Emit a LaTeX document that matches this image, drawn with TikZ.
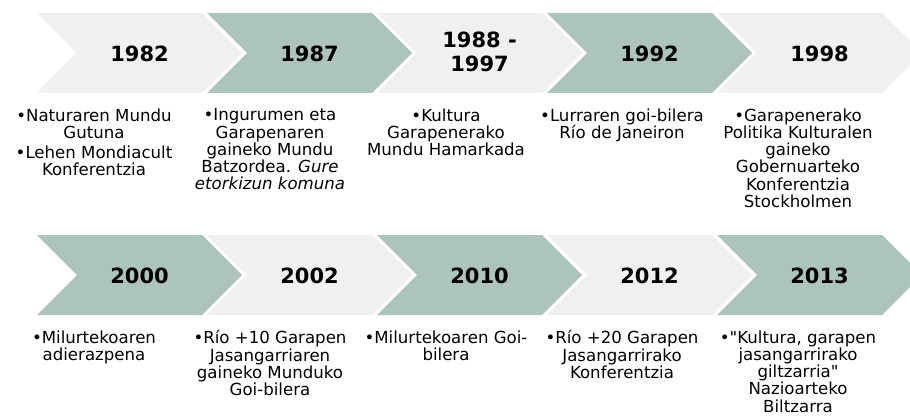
\documentclass[tikz,border=0pt]{standalone}
\usepackage{fontspec}
\setmainfont{DejaVu Sans}[Ligatures=TeXOff]
\usepackage{tikz}
\usetikzlibrary{positioning}
\definecolor{chevgray}{RGB}{240,240,240}
\definecolor{chevteal}{RGB}{173,195,190}
\tikzstyle{year} = [font=\fontsize{21}{23.5}\selectfont\bfseries, align=center, inner sep=0pt]
\tikzstyle{event} = [font=\fontsize{16.6}{17.2}\selectfont, align=center, anchor=north, inner sep=0pt]
\newcommand{\chevron}[3]{%
	\fill[#1] (#2,#3) -- ++(165,0) -- ++(40,40) -- ++(-40,40) -- ++(-165,0) -- ++(40,-40) -- cycle;}

\begin{document}
\begin{tikzpicture}[x=1pt,y=-1pt]
	\fill[white] (0,0) rectangle (910,417);
	\useasboundingbox (0,0) rectangle (910,417);
	\clip (0,0) rectangle (910,417);
	% upper row
	\chevron{chevgray}{37}{13}
	\chevron{chevteal}{207}{13}
	\chevron{chevgray}{377}{13}
	\chevron{chevteal}{547}{13}
	\chevron{chevgray}{717}{13}
	\node[year] (y1982) at (139.5,54) {1982};
	\node[year] (y1987) at (309.5,54) {1987};
	\node[year] (y1988) at (479.5,52) {1988 -\\1997};
	\node[year] (y1992) at (649.5,54) {1992};
	\node[year] (y1998) at (819.5,54) {1998};
	\node[event] (e1982) at (94,108.5) {•Naturaren Mundu\\Gutuna\\[2.5pt]•Lehen Mondiacult\\Konferentzia};
	\node[event] (e1987) at (270,108.5) {•Ingurumen eta\\Garapenaren\\gaineko Mundu\\Batzordea. \textit{Gure}\\\textit{etorkizun komuna}};
	\node[event] (e1988) at (446,108.5) {•Kultura\\Garapenerako\\Mundu Hamarkada};
	\node[event] (e1992) at (622,108.5) {•Lurraren goi-bilera\\Río de Janeiron};
	\node[event] (e1998) at (798,108.5) {•Garapenerako\\Politika Kulturalen\\gaineko\\Gobernuarteko\\Konferentzia\\Stockholmen};
	% lower row
	\chevron{chevteal}{37}{235}
	\chevron{chevgray}{207}{235}
	\chevron{chevteal}{377}{235}
	\chevron{chevgray}{547}{235}
	\chevron{chevteal}{717}{235}
	\node[year] (y2000) at (139.5,276) {2000};
	\node[year] (y2002) at (309.5,276) {2002};
	\node[year] (y2010) at (479.5,276) {2010};
	\node[year] (y2012) at (649.5,276) {2012};
	\node[year] (y2013) at (819.5,276) {2013};
	\node[event] (e2000) at (94,330.5) {•Milurtekoaren\\adierazpena};
	\node[event] (e2002) at (270,330.5) {•Río +10 Garapen\\Jasangarriaren\\gaineko Munduko\\Goi-bilera};
	\node[event] (e2010) at (446,330.5) {•Milurtekoaren Goi-\\bilera};
	\node[event] (e2012) at (622,330.5) {•Río +20 Garapen\\Jasangarrirako\\Konferentzia};
	\node[event] (e2013) at (798,330.5) {•"Kultura, garapen\\jasangarrirako\\giltzarria"\\Nazioarteko\\Biltzarra};
\end{tikzpicture}
\end{document}
